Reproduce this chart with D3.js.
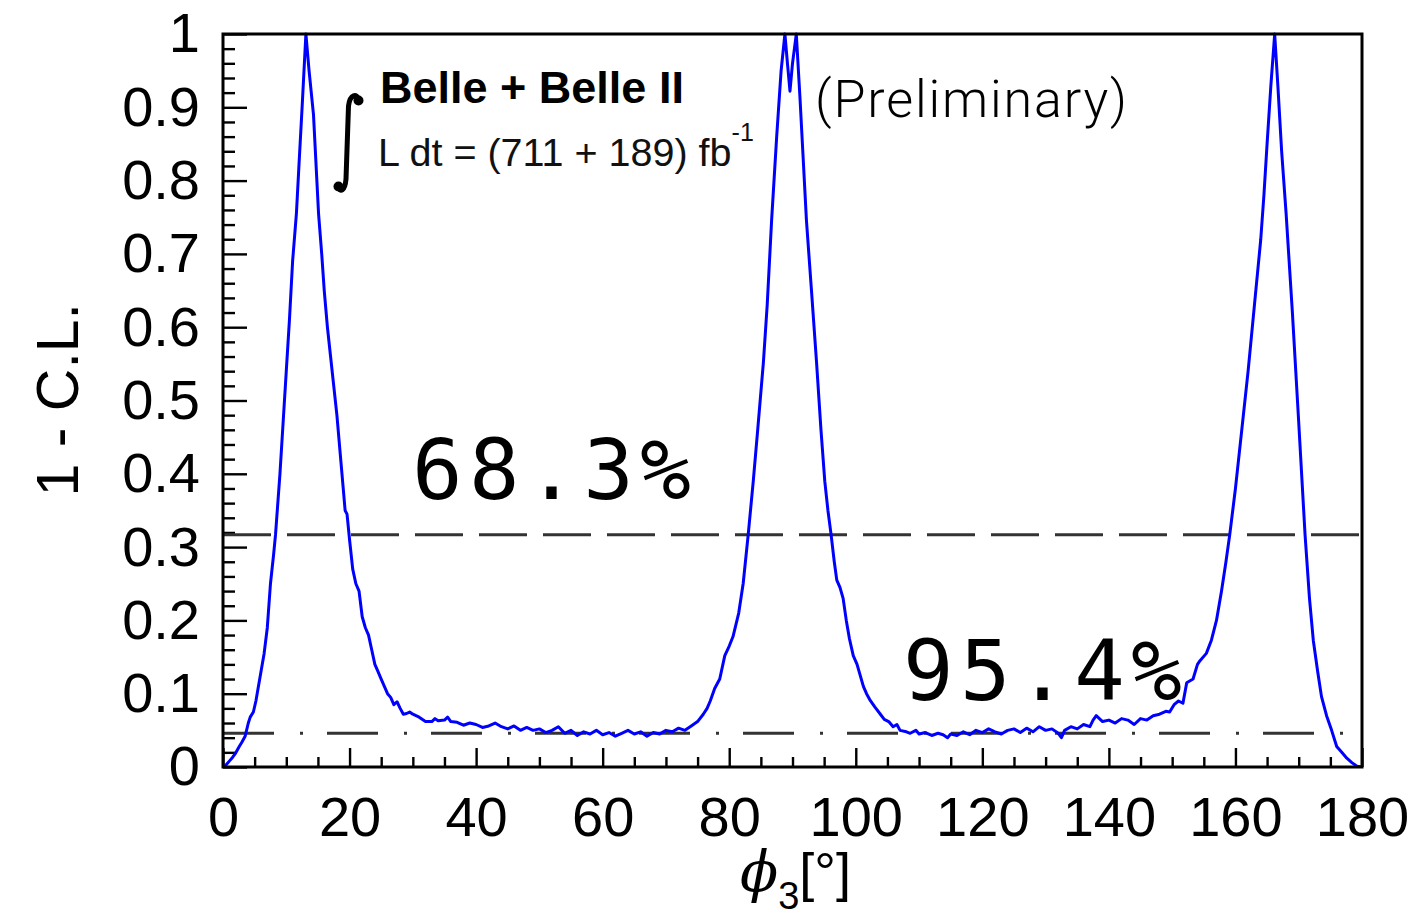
<!DOCTYPE html>
<html>
<head>
<meta charset="utf-8">
<script src="https://cdn.jsdelivr.net/npm/d3@7"></script>
<style>
  body { margin: 0; background: #fff; }
  svg { display: block; }
</style>
</head>
<body>
<svg id="chart" width="1413" height="920"></svg>
<script>
// phi3 scan points (degrees) and the corresponding 1 - C.L. values
const phi3 = [
  0, 0.5, 1, 1.5, 2, 2.5, 3, 3.5, 4, 4.3, 4.8, 5.2, 5.5, 6, 6.5, 7, 7.5, 8, 8.3, 9,
  9.5, 10, 10.5, 11, 11.6, 12, 12.5, 13.1, 13.6, 14.3, 15.1, 15.6, 16, 16.5, 17, 17.5, 18, 18.5, 19, 19.3,
  19.6, 20, 20.5, 21, 21.5, 22, 22.5, 23, 23.5, 24, 24.5, 25, 25.5, 26, 26.5, 27, 27.5, 28, 28.5, 29,
  29.5, 30, 31, 32, 33, 33.5, 34, 35, 35.5, 36, 37, 38, 39, 40, 41, 42, 43, 44, 45, 46,
  47, 48, 49, 50, 51, 52, 53, 54, 55, 56, 57, 58, 59, 60, 61, 62, 63, 64, 65, 66,
  67, 68, 69, 70, 71, 72, 73, 74, 75, 75.9, 76.5, 77, 77.7, 78.5, 79.3, 80, 80.6, 81.5, 82.2, 83,
  83.8, 84.5, 85.4, 86, 86.7, 87.5, 88.2, 88.8, 89.2, 89.6, 90.0, 90.6, 91.2, 92.2, 93, 93.8, 94.5, 95.1, 95.6, 96.1,
  96.6, 97.0, 97.5, 98.0, 98.5, 99, 99.6, 100.2, 100.7, 101.2, 101.7, 102.2, 103, 103.8, 104.5, 105.2, 105.9, 106.5, 107, 108,
  108.6, 109.5, 110, 111, 112, 113, 113.8, 114.5, 115, 116, 117, 118, 119, 120, 121, 122, 123, 124, 125, 126,
  127, 128, 129, 130, 131, 132, 132.5, 133, 134, 135, 136, 137, 137.5, 138, 139, 140, 141, 142, 143, 144,
  145, 146, 147, 148, 149, 149.6, 150.3, 151, 151.7, 152.3, 153.3, 154, 154.4, 155.4, 156.2, 157, 157.8, 158.5, 159.1, 160,
  161, 162, 163, 164, 164.5, 165, 165.6, 166.2, 166.7, 167.3, 168, 169, 170, 171, 171.7, 172.3, 173, 173.6, 174.4, 175.2,
  176, 176.8, 177.6, 178.4, 179.2, 180
];
const oneMinusCL = [
  0.0, 0.003, 0.008, 0.013, 0.019, 0.027, 0.034, 0.042, 0.06, 0.068, 0.075, 0.09, 0.105, 0.13, 0.155, 0.19, 0.25, 0.29, 0.317, 0.40,
  0.47, 0.54, 0.61, 0.69, 0.755, 0.82, 0.90, 1.0, 0.95, 0.89, 0.755, 0.70, 0.65, 0.60, 0.56, 0.52, 0.48, 0.43, 0.38, 0.35,
  0.345, 0.31, 0.27, 0.25, 0.24, 0.205, 0.19, 0.18, 0.16, 0.14, 0.13, 0.12, 0.11, 0.10, 0.095, 0.085, 0.089, 0.08, 0.072, 0.073,
  0.075, 0.072, 0.068, 0.062, 0.062, 0.066, 0.063, 0.064, 0.068, 0.062, 0.061, 0.057, 0.06, 0.058, 0.054, 0.056, 0.06, 0.055, 0.052, 0.056,
  0.05, 0.054, 0.05, 0.052, 0.047, 0.05, 0.055, 0.046, 0.05, 0.043, 0.048, 0.045, 0.05, 0.044, 0.047, 0.042, 0.046, 0.05, 0.045, 0.048,
  0.042, 0.047, 0.045, 0.05, 0.048, 0.053, 0.05, 0.056, 0.062, 0.072, 0.08, 0.09, 0.107, 0.12, 0.152, 0.165, 0.178, 0.21, 0.25, 0.317,
  0.39, 0.46, 0.552, 0.63, 0.746, 0.86, 0.95, 1.0, 0.96, 0.922, 0.96, 1.0, 0.91, 0.746, 0.65, 0.552, 0.46, 0.39, 0.35, 0.317,
  0.28, 0.255, 0.245, 0.23, 0.2, 0.175, 0.152, 0.14, 0.125, 0.11, 0.10, 0.092, 0.082, 0.073, 0.065, 0.062, 0.055, 0.058, 0.05, 0.048,
  0.046, 0.05, 0.045, 0.047, 0.043, 0.046, 0.044, 0.04, 0.045, 0.043, 0.048, 0.044, 0.05, 0.047, 0.052, 0.048, 0.045, 0.05, 0.052, 0.047,
  0.053, 0.048, 0.055, 0.05, 0.052, 0.046, 0.04, 0.05, 0.055, 0.052, 0.058, 0.055, 0.064, 0.07, 0.062, 0.064, 0.06, 0.066, 0.064, 0.058,
  0.066, 0.064, 0.07, 0.072, 0.076, 0.075, 0.085, 0.09, 0.087, 0.115, 0.12, 0.14, 0.145, 0.155, 0.173, 0.2, 0.24, 0.28, 0.317, 0.38,
  0.46, 0.54, 0.63, 0.72, 0.78, 0.85, 0.93, 1.0, 0.93, 0.84, 0.756, 0.62, 0.47, 0.317, 0.23, 0.173, 0.13, 0.096, 0.07, 0.05,
  0.028, 0.02, 0.012, 0.006, 0.001, 0.0
];

// Axis ticks
const xTicks = [0, 20, 40, 60, 80, 100, 120, 140, 160, 180];
const xMinorTicks = d3.range(0, 181, 5).filter(v => v % 20 !== 0);
const yTicks = [0, 0.1, 0.2, 0.3, 0.4, 0.5, 0.6, 0.7, 0.8, 0.9, 1];
const yMinorTicks = d3.range(0, 51).map(i => i / 50).filter((v, i) => i % 5 !== 0);

// Confidence-level reference lines
const clLevels = [0.317, 0.046];
const clLabels = ["68.3%", "95.4%"];

const svg = d3.select("#chart");
const plot = { left: 223, right: 1362, top: 34, bottom: 767 };

const x = d3.scaleLinear().domain([0, 180]).range([plot.left, plot.right]);
const y = d3.scaleLinear().domain([0, 1]).range([plot.bottom, plot.top]);

const tickFont = "'Liberation Sans', Arial, Helvetica, sans-serif";

// Clip region for the curve
svg.append("defs").append("clipPath").attr("id", "plotClip")
  .append("rect")
  .attr("x", plot.left).attr("y", plot.top - 2)
  .attr("width", plot.right - plot.left).attr("height", plot.bottom - plot.top + 2);

// Y axis: major and minor ticks pointing into the frame
const yAxis = svg.append("g")
  .attr("transform", `translate(${plot.left},0)`)
  .call(d3.axisLeft(y).tickValues(yTicks).tickSize(-24).tickPadding(23)
    .tickFormat(d => (d === 0 || d === 1) ? String(d) : d3.format(".1f")(d)));
yAxis.select(".domain").remove();
yAxis.selectAll(".tick line").attr("stroke", "#000").attr("stroke-width", 2.4);
yAxis.selectAll(".tick text")
  .attr("font-family", tickFont).attr("font-size", 56).attr("fill", "#000");

const yMinor = svg.append("g")
  .attr("transform", `translate(${plot.left},0)`)
  .call(d3.axisLeft(y).tickValues(yMinorTicks).tickSize(-12).tickFormat(""));
yMinor.select(".domain").remove();
yMinor.selectAll(".tick line").attr("stroke", "#000").attr("stroke-width", 2.4);

// X axis
const xAxis = svg.append("g")
  .attr("transform", `translate(0,${plot.bottom})`)
  .call(d3.axisBottom(x).tickValues(xTicks).tickSize(-19).tickPadding(29).tickFormat(d3.format("d")));
xAxis.select(".domain").remove();
xAxis.selectAll(".tick line").attr("stroke", "#000").attr("stroke-width", 2.4);
xAxis.selectAll(".tick text")
  .attr("font-family", tickFont).attr("font-size", 56).attr("fill", "#000");

const xMinor = svg.append("g")
  .attr("transform", `translate(0,${plot.bottom})`)
  .call(d3.axisBottom(x).tickValues(xMinorTicks).tickSize(-10).tickFormat(""));
xMinor.select(".domain").remove();
xMinor.selectAll(".tick line").attr("stroke", "#000").attr("stroke-width", 2.4);

// Reference lines at 68.3% and 95.4% C.L.
const dashPatterns = ["48,16", "51,26,3,24"];
svg.append("g").selectAll("line")
  .data(clLevels)
  .join("line")
  .attr("x1", x(0)).attr("x2", x(180))
  .attr("y1", d => y(d)).attr("y2", d => y(d))
  .attr("stroke", "#333")
  .attr("stroke-width", 3)
  .attr("stroke-dasharray", (d, i) => dashPatterns[i]);

// 1 - C.L. curve
const points = phi3.map((p, i) => [p, oneMinusCL[i]]);
svg.append("path")
  .datum(points)
  .attr("clip-path", "url(#plotClip)")
  .attr("fill", "none")
  .attr("stroke", "#0000ff")
  .attr("stroke-width", 3)
  .attr("stroke-linejoin", "round")
  .attr("d", d3.line().x(d => x(d[0])).y(d => y(d[1])));

// Frame
svg.append("rect")
  .attr("x", plot.left).attr("y", plot.top)
  .attr("width", plot.right - plot.left).attr("height", plot.bottom - plot.top)
  .attr("fill", "none").attr("stroke", "#000").attr("stroke-width", 3);

// Confidence-level labels
const labelPos = [[412, 499], [903, 700]];
svg.append("g").selectAll("text")
  .data(clLabels)
  .join("text")
  .attr("x", (d, i) => labelPos[i][0])
  .attr("y", (d, i) => labelPos[i][1])
  .attr("font-family", "'DejaVu Sans Mono', monospace")
  .attr("font-size", 84)
  .attr("letter-spacing", 6.5)
  .attr("fill", "#000")
  .text(d => d);

// Experiment and luminosity annotation
svg.append("text")
  .attr("x", 380).attr("y", 103)
  .attr("font-family", tickFont).attr("font-weight", "bold").attr("font-size", 45)
  .attr("fill", "#000")
  .text("Belle + Belle II");

const lumi = svg.append("text")
  .attr("x", 378).attr("y", 166)
  .attr("font-family", tickFont).attr("font-size", 39.5)
  .attr("fill", "#111");
lumi.append("tspan").text("L dt = (711 + 189) fb");
lumi.append("tspan").attr("font-size", 25).attr("dy", -25).text("-1");

// Integral sign
const integral = svg.append("g").attr("fill", "#000").attr("stroke", "#000");
integral.append("path")
  .attr("fill", "none").attr("stroke-width", 5).attr("stroke-linecap", "round")
  .attr("d", "M 359 100 C 357 93, 350 94, 348.5 106 L 346 179 C 345 191, 340 193, 338 187");
integral.append("circle").attr("cx", 358.5).attr("cy", 100.5).attr("r", 5).attr("stroke", "none");
integral.append("circle").attr("cx", 338.5).attr("cy", 186.5).attr("r", 5).attr("stroke", "none");

svg.append("text")
  .attr("x", 815).attr("y", 117)
  .attr("font-family", "Roboto, 'Liberation Sans', sans-serif")
  .attr("font-weight", 300).attr("font-size", 52)
  .attr("textLength", 312).attr("lengthAdjust", "spacing")
  .attr("fill", "#000")
  .text("(Preliminary)");

// Axis titles
svg.append("text")
  .attr("transform", "translate(78,303) rotate(-90)")
  .attr("text-anchor", "end")
  .attr("font-family", tickFont).attr("font-size", 59)
  .attr("fill", "#000")
  .text("1 - C.L.");

const xTitle = svg.append("text")
  .attr("x", 740).attr("y", 891)
  .attr("font-family", tickFont).attr("font-size", 54)
  .attr("fill", "#000");
xTitle.append("tspan")
  .attr("font-family", "'DejaVu Serif', serif").attr("font-style", "italic")
  .attr("font-size", 56).text("\u03D5");
xTitle.append("tspan").attr("font-size", 38).attr("dy", 18).text("3");
xTitle.append("tspan").attr("dy", -18).text("[°]");
</script>
</body>
</html>
